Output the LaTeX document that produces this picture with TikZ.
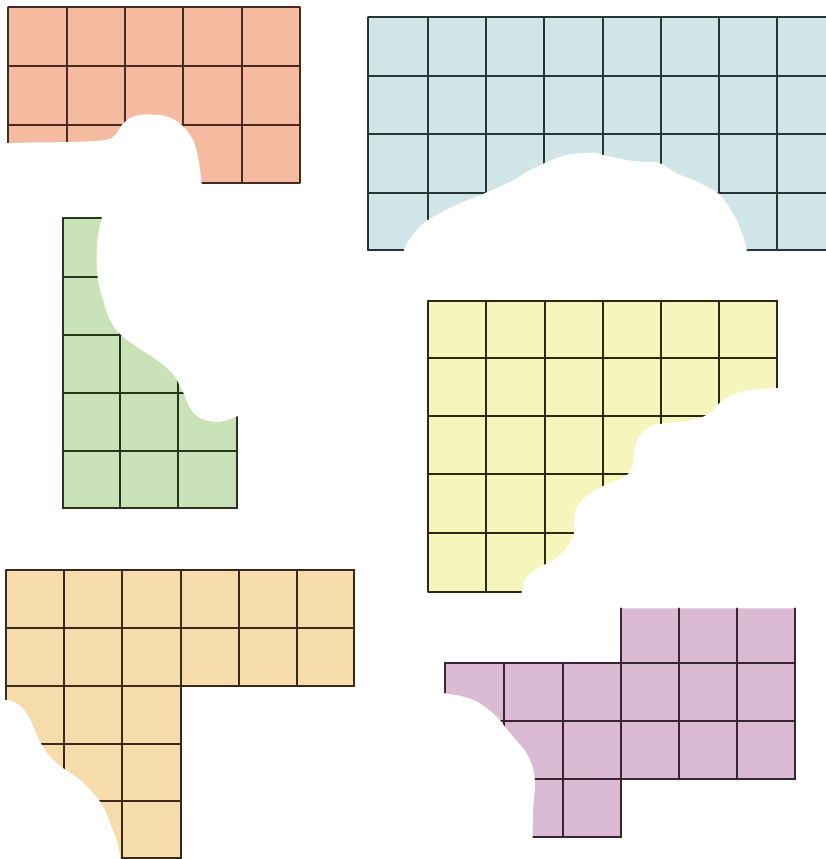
\documentclass[tikz,border=0pt]{standalone}
\usetikzlibrary{backgrounds}
\definecolor{redfill}{HTML}{F5BBA0}
\definecolor{redline}{HTML}{4A2A20}
\definecolor{bluefill}{HTML}{CFE5E7}
\definecolor{blueline}{HTML}{263636}
\definecolor{greenfill}{HTML}{C9E2B8}
\definecolor{greenline}{HTML}{26361E}
\definecolor{yellowfill}{HTML}{F6F6BC}
\definecolor{yellowline}{HTML}{2A2A12}
\definecolor{orangefill}{HTML}{F6DBAC}
\definecolor{orangeline}{HTML}{3A2A16}
\definecolor{purplefill}{HTML}{DBBBD4}
\definecolor{purpleline}{HTML}{3A2434}
\tikzset{
  gridline/.style={line width=2pt, line cap=round},
  bite/.style={fill=white, draw=none},
}
\begin{document}
\begin{tikzpicture}[x=1pt,y=-1pt]
\useasboundingbox (0,0) rectangle (826,859);
\fill[white] (0,0) rectangle (826,859);

% ---------- red ----------
\fill[redfill] (8.3,7.3) rectangle (299.5,182.7);
\foreach \x in {8.3,66.7,125,183.3,241.7,299.5}
  \draw[gridline,redline] (\x,7.3) -- (\x,182.7);
\foreach \y in {7.3,66,125,182.7}
  \draw[gridline,redline] (8.3,\y) -- (299.5,\y);
\fill[bite] plot[smooth,tension=0.6] coordinates {(-2,143.5) (30,142.5) (70,142) (105,140) (115,135) (122,125) (132,117) (147,114.5) (165,116) (178,122) (188,132) (195,145) (199,163) (202,186)} -- (202,195) -- (-2,195) -- cycle;

% ---------- blue ----------
\fill[bluefill] (368.3,17.3) rectangle (830,250);
\foreach \x in {368.3,428.3,486,544,602.7,660.7,719.3,777.3}
  \draw[gridline,blueline] (\x,17.3) -- (\x,250);
\foreach \y in {17.3,76,134.3,192.7,250}
  \draw[gridline,blueline] (368.3,\y) -- (830,\y);
\fill[bite] plot[smooth,tension=0.6] coordinates {(403,253) (404,250) (410,238.3) (423.3,223.3) (440,213.3) (460,203.3) (486,192.7) (510,181.7) (533.3,168.3) (544,163.3) (566.7,155) (593.3,152.7) (603.3,155) (626.7,160) (643.3,161.7) (660,163.3) (676.7,173.3) (693.3,180) (710,188.3) (718.3,193.3) (726.7,203.3) (736.7,220) (743.3,236.7) (746.7,250) (747,253)} -- (747,262) -- (403,262) -- cycle;

% ---------- green ----------
\fill[greenfill] (62.7,218.3) rectangle (236.7,508.3);
\foreach \x in {62.7,120,178.3,236.7}
  \draw[gridline,greenline] (\x,218.3) -- (\x,508.3);
\foreach \y in {218.3,276.7,335,393.3,450.7,508.3}
  \draw[gridline,greenline] (62.7,\y) -- (236.7,\y);
\fill[bite] plot[smooth,tension=0.6] coordinates {(102,210) (101.7,218.3) (98.3,233.3) (96.7,253.3) (97.5,276.7) (103,300) (110,320) (120,334) (136.7,346.7) (156.7,360) (172,373) (179,384) (184,394) (190,408) (200,418) (216.7,422) (230,419) (238,416) (246,415)} -- (246,210) -- cycle;

% ---------- yellow ----------
\fill[yellowfill] (428.3,300.7) rectangle (777.3,591.7);
\foreach \x in {428.3,485.7,545,602.7,660.7,719,777.3}
  \draw[gridline,yellowline] (\x,300.7) -- (\x,591.7);
\foreach \y in {300.7,358.3,416,474,532.7,591.7}
  \draw[gridline,yellowline] (428.3,\y) -- (777.3,\y);
\fill[bite] plot[smooth,tension=0.6] coordinates {(790,387) (777.3,388) (760,389) (740,392) (722,401) (712,411) (700,418) (680,422) (660,424) (648,428) (638,438) (634,452) (632,468) (624,477) (605,485) (588,495) (577,507) (574,520) (574,533) (568,546) (555,559) (538,568) (526,578) (522,590) (521.5,598)} -- (790,598) -- cycle;

% ---------- orange ----------
\fill[orangefill] (6,570) -- (354.3,570) -- (354.3,685.7) -- (181,685.7) -- (181,858.3) -- (6,858.3) -- cycle;
\foreach \x in {6,64,122.3,181}
  \draw[gridline,orangeline] (\x,570) -- (\x,858.3);
\foreach \x in {239.3,297.3,354.3}
  \draw[gridline,orangeline] (\x,570) -- (\x,685.7);
\foreach \y in {570,627.7,685.7}
  \draw[gridline,orangeline] (6,\y) -- (354.3,\y);
\foreach \y in {744.3,800.7,858.3}
  \draw[gridline,orangeline] (6,\y) -- (181,\y);
\fill[bite] plot[smooth,tension=0.6] coordinates {(-3,700) (6,700) (16.7,703.3) (26.7,713.3) (33.3,726.7) (40,741.7) (50,756.7) (63.3,768.3) (80,780) (93.3,793.3) (103.3,806.7) (110,823.3) (116.7,840) (121.5,862)} -- (121.5,870) -- (-3,870) -- cycle;

% ---------- purple ----------
\fill[purplefill] (620.7,608.3) -- (795,608.3) -- (795,779.3) -- (620.7,779.3) -- (620.7,837.3) -- (445,837.3) -- (445,662.7) -- (620.7,662.7) -- cycle;
\foreach \x in {445,504,562.7}
  \draw[gridline,purpleline] (\x,662.7) -- (\x,837.3);
\draw[gridline,purpleline] (620.7,608.3) -- (620.7,837.3);
\foreach \x in {679.3,737.3,795}
  \draw[gridline,purpleline] (\x,608.3) -- (\x,779.3);
\foreach \y in {662.7,721,779.3}
  \draw[gridline,purpleline] (445,\y) -- (795,\y);
\draw[gridline,purpleline] (445,837.3) -- (620.7,837.3);
\fill[bite] plot[smooth,tension=0.6] coordinates {(438,693.3) (445,693.3) (463.3,696.7) (480,703.3) (497,717) (505,727) (515,739) (526.7,753.3) (533.3,770) (535,786.7) (533.3,806.7) (532.5,837.3) (532.5,846)} -- (438,846) -- cycle;
\end{tikzpicture}
\end{document}
